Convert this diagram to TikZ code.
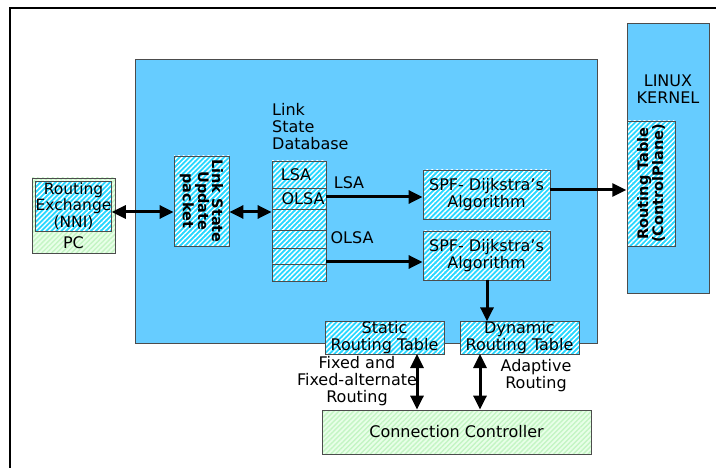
\documentclass[tikz,border=0pt]{standalone}
\usepackage{fontspec}
\setmainfont{DejaVu Sans}
\usetikzlibrary{arrows.meta,patterns.meta}
\definecolor{skyblue}{RGB}{102,204,255}
\definecolor{hatchcyan}{RGB}{40,215,255}
\definecolor{palegreen}{RGB}{232,255,232}
\definecolor{hatchgreen}{RGB}{196,245,196}
\tikzstyle{panel}=[draw=black!70,fill=skyblue,line width=0.8pt,inner sep=0pt]
\tikzstyle{cbox}=[draw=black!70,line width=0.8pt,inner sep=0pt,align=center,
  preaction={fill=hatchcyan},
  pattern={Lines[angle=45,distance=3.5pt,line width=1.4pt]},pattern color=white]
\tikzstyle{gbox}=[draw=black!70,line width=0.8pt,inner sep=0pt,align=center,
  preaction={fill=palegreen},
  pattern={Lines[angle=45,distance=3.5pt,line width=1.4pt]},pattern color=hatchgreen]
\tikzstyle{flow}=[line width=3pt,-{Triangle[length=14pt,width=13pt]}]
\tikzstyle{both}=[line width=3pt,{Triangle[length=14pt,width=13pt]}-{Triangle[length=14pt,width=13pt]}]
\begin{document}
\begin{tikzpicture}[x=1pt,y=-1pt,font=\fontsize{16}{17}\selectfont]
  \useasboundingbox (0,0) rectangle (716,468);
  \draw[line width=2pt] (10,475) -- (10,8) -- (725,8);

  \node[panel,minimum width=462pt,minimum height=284pt] (main) at (366,201) {};
  \node[panel,minimum width=82pt,minimum height=270pt] (kernel) at (668,158) {};
  \node[align=center] (ktext) at (668,89) {LINUX\\KERNEL};
  \node[cbox,minimum width=125pt,minimum height=48pt,rotate=90,font=\bfseries\fontsize{14.5}{15}\selectfont]
    (rtable) at (651,183.5) {Routing Table\\(ControlPlane)};

  \node[gbox,minimum width=83pt,minimum height=75pt] (pc) at (73.5,215.5) {};
  \node[cbox,minimum width=73pt,minimum height=50pt,font=\fontsize{15.5}{16.5}\selectfont]
    (rex) at (73.5,206) {Routing\\Exchange\\(NNI)};
  \node (pctext) at (73.5,243) {PC};

  \node[cbox,minimum width=90pt,minimum height=55pt,rotate=-90,font=\bfseries\fontsize{14.5}{14}\selectfont]
    (lsu) at (201.5,201) {Link State\\Update\\packet};

  \node[anchor=north west,align=left,inner sep=0pt] (dbtext) at (272,103) {Link\\State\\Database};
  \foreach \name/\top/\bot in {r1/161/188, r2/188/209, r3/209/230, r4/230/248, r5/248/264, r6/264/281}
    \node[cbox,minimum width=54pt,minimum height=\bot pt-\top pt] (\name) at (299,{(\top+\bot)/2}) {};
  \node (lsatxt) at (296,174.5) {LSA};
  \node (olsatxt) at (303,198.5) {OLSA};

  \node[cbox,minimum width=127pt,minimum height=49pt] (spf1) at (486.5,194.5) {SPF- Dijkstra's\\Algorithm};
  \node[cbox,minimum width=127pt,minimum height=49pt] (spf2) at (486.5,255.5) {SPF- Dijkstra's\\Algorithm};
  \node[cbox,minimum width=119pt,minimum height=32pt] (static) at (384.5,338) {Static\\Routing Table};
  \node[cbox,minimum width=119pt,minimum height=32pt] (dynamic) at (519.5,338) {Dynamic\\Routing Table};
  \node[gbox,minimum width=269pt,minimum height=44pt] (cc) at (456.5,432) {Connection Controller};

  \node (lsalbl) at (349,183) {LSA};
  \node (olsalbl) at (352,238) {OLSA};
  \node[align=center] (fixed) at (357,381) {Fixed and\\Fixed-alternate\\Routing};
  \node[align=center] (adapt) at (536,376) {Adaptive\\Routing};

  \coordinate (olsa) at (326,262);
  \coordinate (sdown) at (417,354);
  \coordinate (ddown) at (480,354);
  \coordinate (sout) at (487,280);

  % lsu is turned by -90, so its south side faces left
  \draw[both] (rex.east |- 0,212) -- (lsu.south |- 0,212);
  \draw[both] (lsu.north |- 0,212) -- (r3.west |- 0,212);
  \draw[flow] (r2.east |- 0,197) -- (spf1.west |- 0,197);
  \draw[flow] (olsa) -- (olsa -| spf2.west);
  \draw[flow] (spf1.east |- 0,190) -- (rtable.north |- 0,190);
  \draw[flow] (sout) -- (sout |- dynamic.north);
  \draw[both] (sdown) -- (sdown |- cc.north);
  \draw[both] (ddown) -- (ddown |- cc.north);
\end{tikzpicture}
\end{document}
